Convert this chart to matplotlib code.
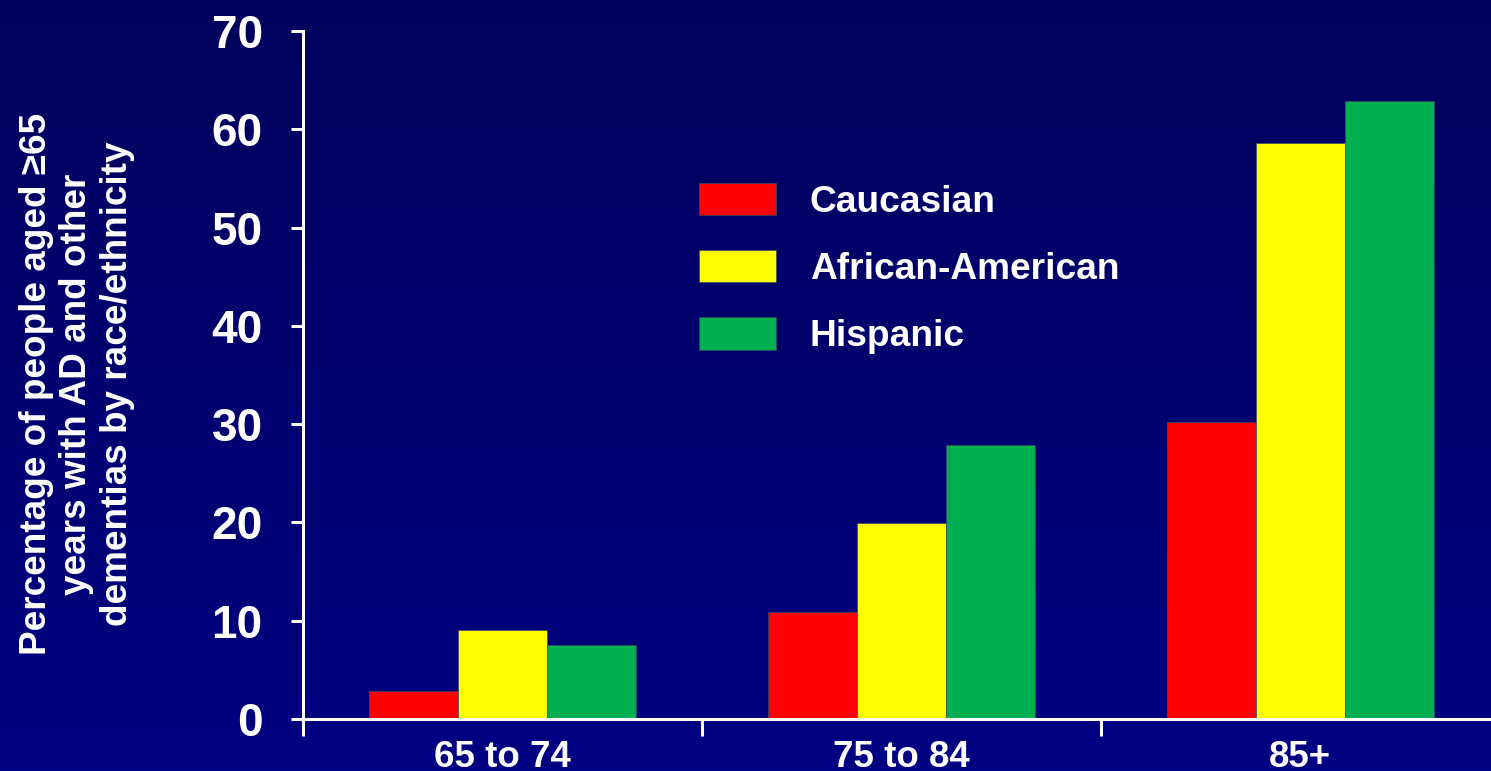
import numpy as np
import matplotlib.pyplot as plt
from matplotlib.colors import LinearSegmentedColormap

plt.rcParams['font.family'] = ['Liberation Sans', 'DejaVu Sans']
plt.rcParams['font.weight'] = 'bold'

# --- datos ---
age_groups = ['65 to 74', '75 to 84', '85+']
caucasian = [2.9, 10.9, 30.2]
african_american = [9.1, 19.9, 58.6]
hispanic = [7.5, 27.9, 62.9]
series_names = ['Caucasian', 'African-American', 'Hispanic']
series_colors = ['#FF0000', '#FFFF00', '#00B050']
y_ticks = [0, 10, 20, 30, 40, 50, 60, 70]

fig = plt.figure(figsize=(14.91, 7.71), dpi=100)

# fondo azul con degradado vertical
bg = fig.add_axes([0, 0, 1, 1], zorder=-1)
grad = np.linspace(0, 1, 256).reshape(-1, 1)
cmap = LinearSegmentedColormap.from_list('navy', ['#00005C', '#000082'])
bg.imshow(grad, aspect='auto', cmap=cmap, extent=[0, 1, 0, 1], origin='upper')
bg.axis('off')

ax = fig.add_axes([0.2032, 0.0674, 0.8026, 0.8923])
ax.set_facecolor('none')

x = np.arange(len(age_groups))
w = 0.223
for i, (vals, name, col) in enumerate(zip([caucasian, african_american, hispanic],
                                          series_names, series_colors)):
    ax.bar(x + (i - 1) * w, vals, width=w, color=col, label=name,
           edgecolor='#3a4a6a', linewidth=0.5)

ax.set_xlim(-0.5, 2.5)
ax.set_ylim(0, 70)
ax.set_yticks(y_ticks)

# ticks mayores en los límites de grupo, etiquetas en el centro
ax.set_xticks([-0.5, 0.5, 1.5])
ax.set_xticklabels([])
ax.set_xticks(x, minor=True)
ax.set_xticklabels(age_groups, minor=True)
ax.tick_params(axis='x', which='minor', length=0, pad=15, labelsize=26.5, labelcolor='white')
ax.tick_params(axis='x', which='major', length=12, width=2.2, color='white', direction='out')
ax.tick_params(axis='y', length=9, width=2.2, color='white', pad=20, labelsize=33, labelcolor='white')

for side in ['top', 'right']:
    ax.spines[side].set_visible(False)
for side in ['left', 'bottom']:
    ax.spines[side].set_color('white')
    ax.spines[side].set_linewidth(2.2)

fig.text(77 / 1491, 1 - 384 / 771,
         'Percentage of people aged \u226565\nyears with AD and other\ndementias by race/ethnicity',
         rotation=90, ha='center', va='center', multialignment='center',
         color='white', fontsize=26.6, linespacing=1.2)

ax.legend(loc='upper left', bbox_to_anchor=(680 / 1491, 1 - 164 / 771),
          bbox_transform=fig.transFigure, frameon=False, fontsize=26.7,
          labelcolor='white', handlelength=2.1, handleheight=0.97,
          handletextpad=0.9, labelspacing=0.82, borderpad=0)

fig.savefig('out.png', dpi=100)
